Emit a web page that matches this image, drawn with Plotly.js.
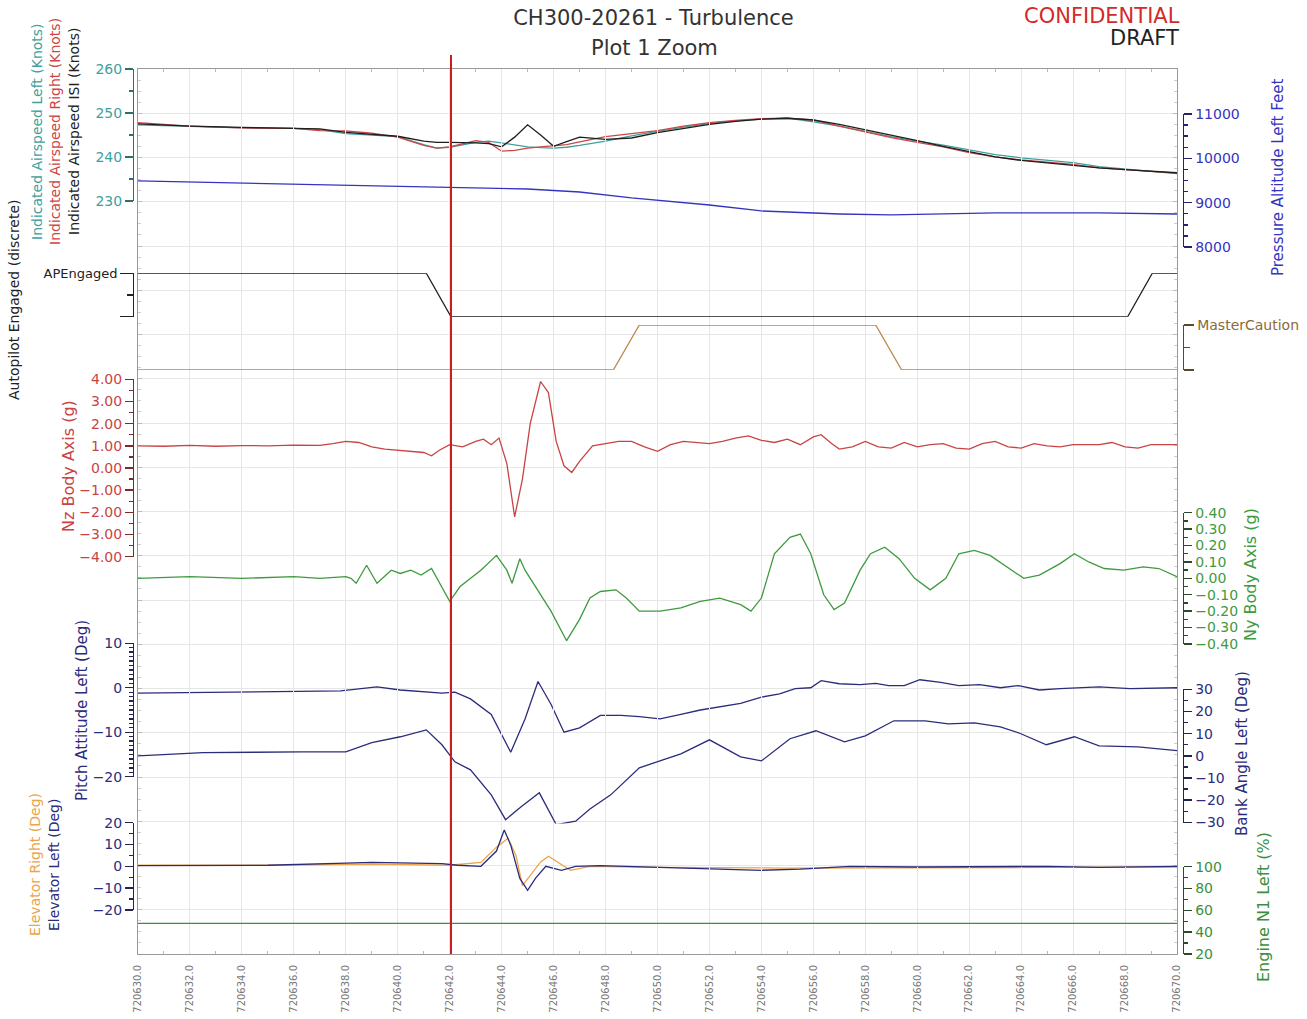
<!DOCTYPE html>
<html>
<head>
<meta charset="utf-8">
<script src="https://cdn.plot.ly/plotly-3.0.1.min.js"></script>
<style>html,body{margin:0;padding:0;background:#fff;}#chart{width:1307px;height:1019px;}</style>
</head>
<body>
<div id="chart"></div>
<script>
// ---------- DATA (time offsets in seconds from T0) ----------
const T0 = 720630;
const xTickStep = 2;

const tAirspeed = [0,2,4,6,7,8,9,10,11,11.5,12,12.5,13,13.5,14,14.5,15,15.5,16,16.5,17,18,19,20,21,22,23,24,25,26,27,28,29,30,31,32,33,34,35,36,37,38,39,40];
const airspeedISI = [247.5,247.0,246.7,246.6,246.4,245.6,245.2,244.7,243.6,243.3,243.3,243.3,243.2,243.0,242.3,244.5,247.3,245.0,242.4,243.5,244.5,244.0,244.3,245.5,246.5,247.4,248.1,248.6,248.8,248.4,247.4,246.2,245.0,243.7,242.4,241.2,240.0,239.2,238.6,238.1,237.5,237.1,236.8,236.4];
const airspeedRight = [247.8,247.0,246.6,246.5,246.0,245.9,245.4,244.5,242.6,242.0,242.3,243.0,243.7,243.3,241.3,241.5,242.0,242.3,242.5,242.8,243.4,244.6,245.3,246.0,247.0,247.8,248.3,248.7,248.8,248.4,247.0,245.7,244.4,243.3,242.3,241.0,240.0,239.3,238.8,238.3,237.5,237.1,236.8,236.3];
const airspeedLeft = [247.3,246.9,246.6,246.5,246.2,245.3,245.0,244.6,242.8,242.0,242.2,242.8,243.3,243.6,243.2,242.7,242.3,242.1,242.0,242.2,242.6,243.6,244.8,245.8,246.8,247.6,248.2,248.6,248.8,248.0,247.0,245.8,244.6,243.6,242.7,241.6,240.5,239.8,239.2,238.7,237.8,237.2,236.7,236.2];

const tPressAlt = [0,6,12,15,17,19,22,24,27,29,33,37,40];
const pressureAltitude = [9489,9421,9353,9308,9240,9105,8947,8812,8744,8722,8767,8767,8744];

const tAP = [0,11.1,12.05,38.1,39.05,40];
const apEngaged = [1,1,0,0,1,1];

const tMC = [0,18.3,19.3,28.4,29.4,40];
const masterCaution = [0,0,1,1,0,0];

const tNz = [0,1,2,3,4,5,6,7,7.5,8,8.5,9,9.5,10,10.5,11,11.3,11.6,12,12.5,13,13.3,13.6,13.9,14.2,14.5,14.8,15.1,15.5,15.8,16.1,16.4,16.7,17,17.5,18,18.5,19,19.5,20,20.5,21,21.5,22,22.5,23,23.5,24,24.5,25,25.5,26,26.3,26.7,27,27.5,28,28.5,29,29.5,30,30.5,31,31.5,32,32.5,33,33.5,34,34.5,35,35.5,36,37,37.5,38,38.5,39,40];
const nzBody = [1.00,0.98,1.02,0.98,1.01,1.00,1.03,1.02,1.10,1.20,1.15,0.95,0.85,0.80,0.75,0.70,0.55,0.80,1.05,0.95,1.20,1.30,1.05,1.35,0.20,-2.20,-0.50,2.00,3.90,3.40,1.20,0.10,-0.20,0.30,1.00,1.10,1.20,1.20,0.95,0.75,1.05,1.20,1.15,1.10,1.20,1.35,1.45,1.25,1.15,1.30,1.05,1.40,1.50,1.10,0.85,0.95,1.20,0.95,0.90,1.15,0.95,1.05,1.10,0.90,0.85,1.10,1.20,0.95,0.90,1.10,1.00,0.95,1.05,1.05,1.15,0.95,0.90,1.05,1.05];

const tNy = [0,2,4,6,7,8,8.2,8.4,8.8,9.2,9.75,10.1,10.5,10.9,11.3,11.7,12.0,12.4,12.8,13.2,13.8,14.2,14.4,14.7,14.9,15.3,15.9,16.5,17.0,17.4,17.8,18.4,18.8,19.3,20.1,20.9,21.65,22.4,23.2,23.6,24.0,24.5,25.1,25.5,25.9,26.4,26.8,27.2,27.8,28.2,28.75,29.3,29.9,30.5,31.1,31.6,32.2,32.8,33.55,34.1,34.7,35.5,36.05,36.6,37.2,37.95,38.7,39.3,40];
const nyBody = [0.0,0.01,0.0,0.01,0.0,0.01,0.0,-0.03,0.08,-0.03,0.05,0.03,0.05,0.02,0.06,-0.05,-0.14,-0.05,0.0,0.05,0.14,0.05,-0.03,0.12,0.05,-0.05,-0.2,-0.38,-0.25,-0.12,-0.08,-0.07,-0.12,-0.2,-0.2,-0.18,-0.14,-0.12,-0.16,-0.2,-0.12,0.15,0.25,0.27,0.15,-0.1,-0.19,-0.15,0.05,0.15,0.19,0.12,0.0,-0.07,0.0,0.15,0.17,0.14,0.06,0.0,0.02,0.09,0.15,0.1,0.06,0.05,0.07,0.06,0.01];

const tPitch = [0,6.3,7.8,9.2,10.1,11.7,12.2,12.8,13.6,14.35,14.9,15.4,15.9,16.4,17.0,17.8,18.6,19.3,20.1,20.9,21.65,23.2,24.0,24.7,25.3,25.9,26.3,27.0,27.8,28.4,28.9,29.5,30.1,30.9,31.6,32.4,33.2,33.9,34.7,35.5,36.2,37.0,38.2,40];
const pitchAttitude = [-1.2,-0.9,-0.7,0.2,-0.5,-1.2,-1.0,-2.5,-6.0,-14.5,-7.0,1.4,-3.7,-10.0,-9.0,-6.2,-6.2,-6.5,-7.0,-6.0,-5.0,-3.5,-2.1,-1.4,-0.2,0.0,1.6,0.9,0.7,1.0,0.5,0.5,1.8,1.2,0.5,0.7,0.0,0.5,-0.5,-0.2,0.0,0.2,-0.2,0.0];

const tBank = [0,2.5,6.3,8.0,9.0,10.1,11.1,11.7,12.2,12.8,13.6,14.15,14.75,15.45,16.1,16.85,17.4,18.2,19.3,20.9,22.0,23.2,24.0,25.1,26.1,27.2,28.0,29.1,30.3,31.2,32.2,33.2,33.9,34.97,36.05,37.0,38.5,40];
const bankAngle = [0,1.4,1.8,1.8,5.9,8.6,11.7,5.0,-2.7,-6.3,-17.6,-28.8,-23.0,-16.7,-31.0,-29.5,-24.0,-17.6,-5.4,0.9,7.2,-0.5,-2.3,7.7,11.3,6.3,9.0,15.8,15.8,14.4,14.9,13.1,10.4,5.0,8.6,4.5,4.0,2.3];

const tElevLeft = [0,5,8,9,11.7,12.3,13.2,13.8,14.1,14.35,14.7,15.0,15.3,15.7,16.3,16.85,17.8,21.6,24.0,25.5,27.4,30,35,37,40];
const elevatorLeft = [0.3,0.5,1.5,1.8,1.2,0.5,0.0,7.0,16.6,9.7,-5.5,-11.0,-5.5,0.0,-1.8,0.0,0.3,-1.0,-1.8,-1.3,0.0,-0.3,0.0,-0.5,0.0];

const tElevRight = [0,5,9,12,13.2,13.8,14.25,14.55,14.8,15.1,15.5,15.8,16.3,16.65,17.4,20,25,30,35,40];
const elevatorRight = [0.5,0.5,1.0,0.5,1.8,8.8,12.9,5.0,-8.8,-4.0,2.0,4.6,1.0,-1.8,0.0,-0.5,-0.8,-0.5,-0.5,-0.3];

const tN1 = [0,10,20,30,40];
const engineN1Left = [48,48,48,48,48];

const eventTime = 12.05; // red marker

// ---------- HELPERS ----------
const X = arr => arr.map(s => T0 + s);
const FONT = 'DejaVu Sans, Verdana, sans-serif';
function line(t, y, yaxis, color, width) {
  return {x: X(t), y: y, yaxis: yaxis, type: 'scatter', mode: 'lines',
          line: {color: color, width: width || 1.3}, hoverinfo: 'skip'};
}
const C = {
  teal: '#3f9f9c', red: '#d04545', black: '#1e1e1e', blue: '#3434c0',
  nz: '#c84444', ny: '#3f9a3f', navy: '#2c2c7c', orange: '#eba448', green: '#3d8f3d',
  mc: '#b8884a'
};

const traces = [
  // empty trace that creates the full-height frame/grid subplot
  {x: [T0, T0 + 40], y: [null, null], yaxis: 'y', type: 'scatter', mode: 'lines', hoverinfo: 'skip'},
  line(tPressAlt, pressureAltitude, 'y3', C.blue),
  line(tAirspeed, airspeedLeft, 'y2', C.teal),
  line(tAirspeed, airspeedRight, 'y2', C.red),
  line(tAirspeed, airspeedISI, 'y2', C.black),
  line(tAP, apEngaged, 'y4', C.black),
  line(tMC, masterCaution, 'y5', C.mc),
  line(tNz, nzBody, 'y6', C.nz),
  line(tNy, nyBody, 'y7', C.ny),
  line(tPitch, pitchAttitude, 'y8', C.navy),
  line(tBank, bankAngle, 'y9', C.navy),
  line(tN1, engineN1Left, 'y11', C.green),
  line(tElevRight, elevatorRight, 'y10', C.orange),
  line(tElevLeft, elevatorLeft, 'y10', C.navy)
];

function yax(domain, range, side, color, lineColor, extra) {
  const a = {
    domain: domain, range: range, anchor: 'free', position: side === 'left' ? 0 : 1, side: side,
    showgrid: false, zeroline: false, showline: true, linecolor: lineColor, linewidth: 1.4,
    ticks: 'outside', ticklen: 8, tickwidth: 1.4, tickcolor: lineColor,
    tickfont: {family: FONT, size: 14, color: color}, fixedrange: true
  };
  return Object.assign(a, extra || {});
}

const layout = {
  width: 1307, height: 1019,
  margin: {l: 133, r: 124, t: 69, b: 65},
  paper_bgcolor: '#ffffff', plot_bgcolor: 'rgba(0,0,0,0)',
  showlegend: false,
  font: {family: FONT, size: 12, color: '#333'},
  title: {text: 'CH300-20261 - Turbulence', font: {family: FONT, size: 21, color: '#333'},
          x: 0.5, xref: 'container', y: 1 - 18/1019, yref: 'container', yanchor: 'middle'},
  xaxis: {
    domain: [5/1050, 1044/1050], range: [T0, T0 + 40], anchor: 'y',
    tick0: T0, dtick: xTickStep, tickformat: '.1f', tickangle: -90,
    tickfont: {family: FONT, size: 10, color: '#777'}, ticklabelstandoff: 6,
    showgrid: true, gridcolor: '#e6e6e6', gridwidth: 1, zeroline: false,
    ticks: 'inside', ticklen: 5, tickcolor: '#aaa', showline: true, linecolor: '#999', mirror: 'ticks',
    minor: {dtick: 1, ticks: 'inside', ticklen: 3, tickcolor: '#bbb', showgrid: false}, fixedrange: true
  },
  yaxis: {
    domain: [0, 1], range: [0, 20], anchor: 'x', dtick: 1, showgrid: true, gridcolor: '#e6e6e6',
    zeroline: false, showticklabels: false, ticks: 'inside', ticklen: 4, tickcolor: '#bbb',
    showline: true, linecolor: '#999', mirror: 'ticks',
    minor: {dtick: 0.25, ticks: 'inside', ticklen: 3, tickcolor: '#ccc', showgrid: false}, fixedrange: true
  },
  // Airspeed (left)
  yaxis2: yax([0.851, 1.0], [230, 260], 'left', C.teal, '#2f6f6c',
              {dtick: 10, minor: {dtick: 5, ticks: 'outside', ticklen: 4, tickcolor: '#2f6f6c'}}),
  // Pressure altitude (right)
  yaxis3: yax([0.7989, 0.9492], [8000, 11000], 'right', C.blue, '#24246e',
              {dtick: 1000, tickformat: 'd', minor: {dtick: 250, ticks: 'outside', ticklen: 4, tickcolor: '#24246e'}}),
  // Autopilot (left)
  yaxis4: yax([0.7201, 0.7692], [0, 1], 'left', '#222', '#222',
              {tickvals: [0, 1], ticktext: ['', 'APEngaged'], ticklen: 13, tickfont: {family: FONT, size: 13, color: '#222'},
               minor: {tickvals: [0.5], ticks: 'outside', ticklen: 6, tickcolor: '#222'}}),
  // Master caution (right)
  yaxis5: yax([0.6599, 0.7107], [0, 1], 'right', '#8a6a3a', '#5a4a2a',
              {tickvals: [0, 1], ticktext: ['', 'MasterCaution'], ticklen: 10, tickfont: {family: FONT, size: 14, color: '#8a6a3a'},
               minor: {tickvals: [0.5], ticks: 'outside', ticklen: 6, tickcolor: '#5a4a2a'}}),
  // Nz (left)
  yaxis6: yax([0.4489, 0.6494], [-4, 4], 'left', C.nz, '#7a2a2a',
              {dtick: 1, tickformat: '.2f', minor: {dtick: 0.5, ticks: 'outside', ticklen: 4, tickcolor: '#7a2a2a'}}),
  // Ny (right)
  yaxis7: yax([0.3503, 0.4986], [-0.4, 0.4], 'right', C.ny, '#2a4a2a',
              {dtick: 0.1, tickformat: '.2f', minor: {dtick: 0.05, ticks: 'outside', ticklen: 4, tickcolor: '#2a4a2a'}}),
  // Pitch (left)
  yaxis8: yax([0.2003, 0.3511], [-20, 10], 'left', C.navy, '#24244e',
              {dtick: 10, minor: {dtick: 1, ticks: 'outside', ticklen: 4, tickcolor: '#24244e'}}),
  // Bank (right)
  yaxis9: yax([0.1475, 0.2991], [-30.5, 30], 'right', C.navy, '#24244e',
              {tickvals: [-30, -20, -10, 0, 10, 20, 30], minor: {tickvals: [-25, -15, -5, 5, 15, 25], ticks: 'outside', ticklen: 4, tickcolor: '#24244e'}}),
  // Elevator (left)
  yaxis10: yax([0.0497, 0.1484], [-20, 20], 'left', C.navy, '#24244e',
              {dtick: 10, minor: {dtick: 5, ticks: 'outside', ticklen: 4, tickcolor: '#24244e'}}),
  // N1 (right)
  yaxis11: yax([0, 0.0986], [20, 100], 'right', C.green, '#2a4a2a',
              {dtick: 20, minor: {dtick: 10, ticks: 'outside', ticklen: 4, tickcolor: '#2a4a2a'}}),
  shapes: [
    {type: 'line', xref: 'x', yref: 'paper', x0: T0 + eventTime, x1: T0 + eventTime, y0: 0, y1: 1.0158,
     line: {color: '#c81e1e', width: 2}}
  ],
  annotations: []
};

function vlabel(text, px, py, color, size) {
  layout.annotations.push({text: text, xref: 'paper', yref: 'paper',
    x: (px - 133) / 1050, y: (954 - py) / 885, showarrow: false, textangle: -90,
    xanchor: 'center', yanchor: 'middle', font: {family: FONT, size: size || 15, color: color}});
}
function hlabel(text, px, py, color, size) {
  layout.annotations.push({text: text, xref: 'paper', yref: 'paper',
    x: (px - 133) / 1050, y: (954 - py) / 885, showarrow: false,
    xanchor: 'center', yanchor: 'middle', font: {family: FONT, size: size || 21, color: color}});
}
hlabel('Plot 1 Zoom', 654, 48, '#333', 21);
hlabel('CONFIDENTIAL', 1102, 16, '#d42a2a', 21);
hlabel('DRAFT', 1144, 38, '#222', 21);

vlabel('Autopilot Engaged (discrete)', 14, 300, '#222', 14);
vlabel('Indicated Airspeed Left (Knots)', 37, 132, C.teal, 14);
vlabel('Indicated Airspeed Right (Knots)', 55, 132, C.red, 14);
vlabel('Indicated Airspeed ISI (Knots)', 74, 132, '#222', 14);
vlabel('Nz Body Axis (g)', 68, 466, C.nz, 16);
vlabel('Pitch Attitude Left (Deg)', 82, 711, C.navy);
vlabel('Elevator Right (Deg)', 35, 865, C.orange, 14);
vlabel('Elevator Left (Deg)', 54, 865, C.navy, 14);
vlabel('Pressure Altitude Left Feet', 1278, 178, C.blue);
vlabel('Ny Body Axis (g)', 1250, 575, C.ny, 16);
vlabel('Bank Angle Left (Deg)', 1242, 754, C.navy);
vlabel('Engine N1 Left (%)', 1263, 907, C.green, 16);

Plotly.newPlot('chart', traces, layout, {displayModeBar: false, staticPlot: true});
</script>
</body>
</html>
